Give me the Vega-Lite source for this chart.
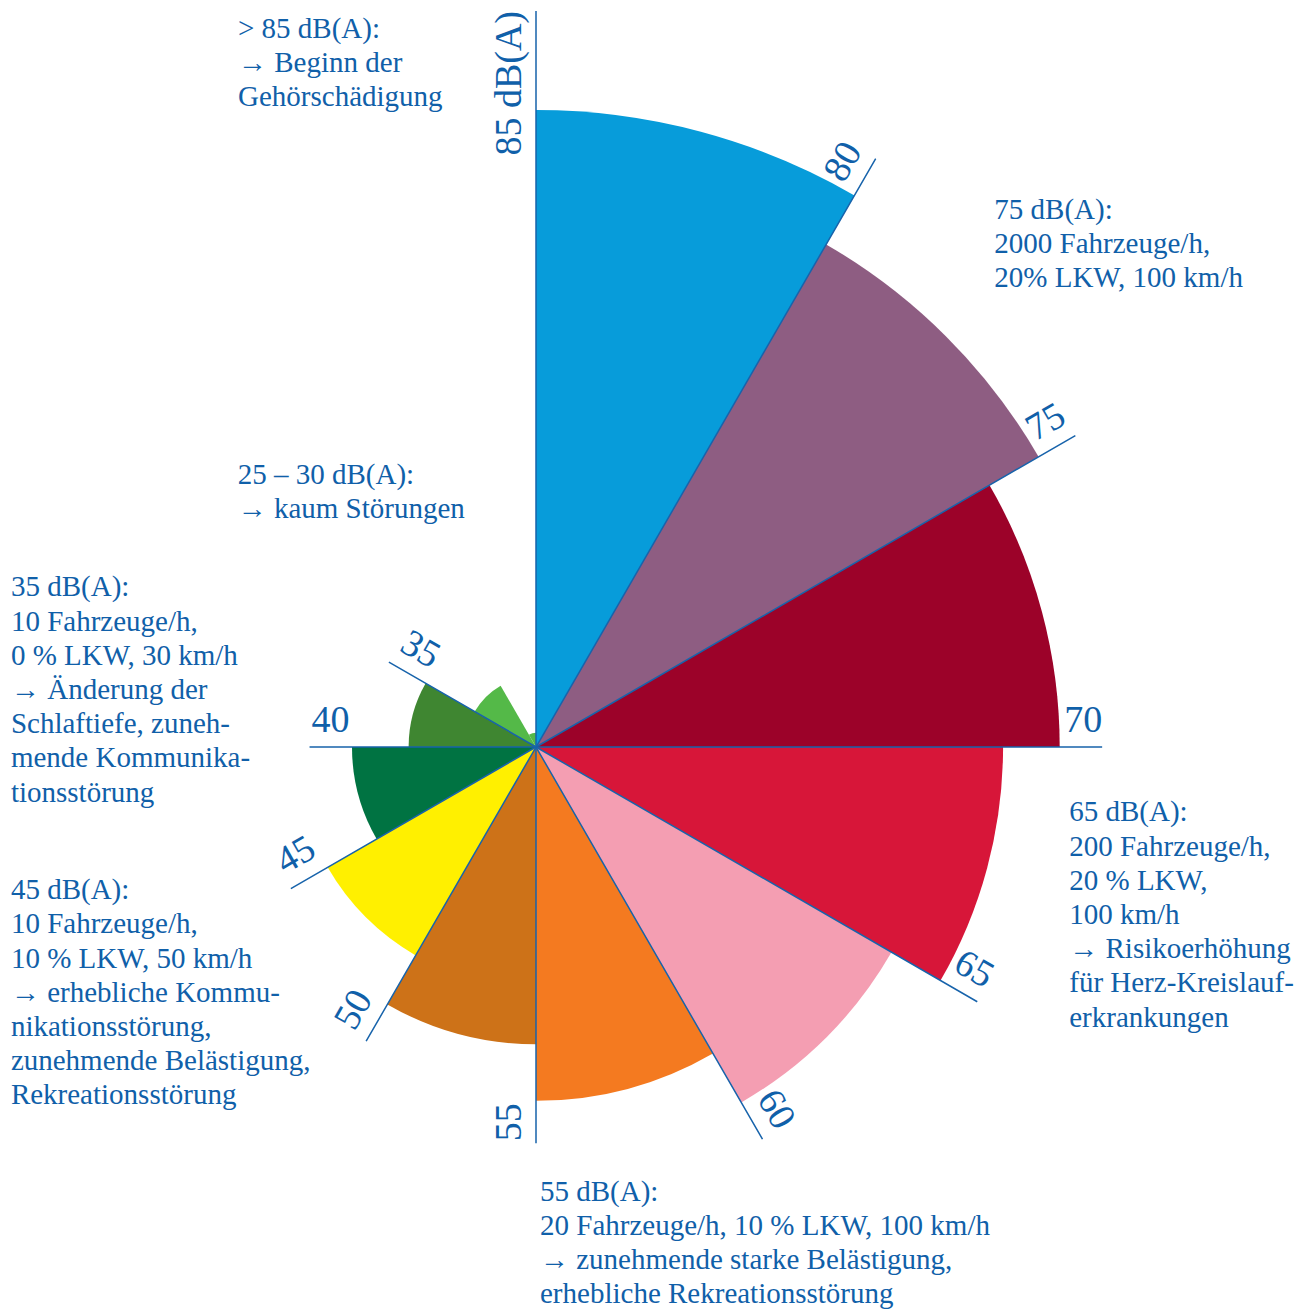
{
  "$schema": "https://vega.github.io/schema/vega-lite/v6.json",
  "width": 1072,
  "height": 1124,
  "autosize": {"type": "none"},
  "padding": {"left": 0, "top": 185, "right": 234, "bottom": 0},
  "background": "white",
  "config": {"view": {"stroke": null}},
  "datasets": {
    "bands": [
      {"band": "80-85", "lo": 80, "hi": 85},
      {"band": "75-80", "lo": 75, "hi": 80},
      {"band": "70-75", "lo": 70, "hi": 75},
      {"band": "65-70", "lo": 65, "hi": 70},
      {"band": "60-65", "lo": 60, "hi": 65},
      {"band": "55-60", "lo": 55, "hi": 60},
      {"band": "50-55", "lo": 50, "hi": 55},
      {"band": "45-50", "lo": 45, "hi": 50},
      {"band": "40-45", "lo": 40, "hi": 45},
      {"band": "35-40", "lo": 35, "hi": 40},
      {"band": "30-35", "lo": 30, "hi": 35},
      {"band": "25-30", "lo": 25, "hi": 30}
    ],
    "ticks": [
      {"level": 85, "label": "85 dB(A)"},
      {"level": 80, "label": "80"},
      {"level": 75, "label": "75"},
      {"level": 70, "label": "70"},
      {"level": 65, "label": "65"},
      {"level": 60, "label": "60"},
      {"level": 55, "label": "55"},
      {"level": 50, "label": "50"},
      {"level": 45, "label": "45"},
      {"level": 40, "label": "40"},
      {"level": 35, "label": "35"}
    ],
    "notes": [
      {"id": "n85", "level": 85, "lines": ["> 85 dB(A):", "→ Beginn der", "Gehörschädigung"]},
      {"id": "n75", "level": 75, "lines": ["75 dB(A):", "2000 Fahrzeuge/h,", "20% LKW, 100 km/h"]},
      {"id": "n25", "level": 30, "lines": ["25 – 30 dB(A):", "→ kaum Störungen"]},
      {"id": "n35", "level": 35, "lines": ["35 dB(A):", "10 Fahrzeuge/h,", "0 % LKW, 30 km/h", "→ Änderung der", "Schlaftiefe, zuneh-", "mende Kommunika-", "tionsstörung"]},
      {"id": "n65", "level": 65, "lines": ["65 dB(A):", "200 Fahrzeuge/h,", "20 % LKW,", "100 km/h", "→ Risikoerhöhung", "für Herz-Kreislauf-", "erkrankungen"]},
      {"id": "n45", "level": 45, "lines": ["45 dB(A):", "10 Fahrzeuge/h,", "10 % LKW, 50 km/h", "→ erhebliche Kommu-", "nikationsstörung,", "zunehmende Belästigung,", "Rekreationsstörung"]},
      {"id": "n55", "level": 55, "lines": ["55 dB(A):", "20 Fahrzeuge/h, 10 % LKW, 100 km/h", "→ zunehmende starke Belästigung,", "erhebliche Rekreationsstörung"]}
    ]
  },
  "layer": [
    {
      "data": {"name": "bands"},
      "mark": {"type": "arc"},
      "encoding": {
        "theta": {"field": "hi", "type": "quantitative", "stack": null, "scale": {"domain": [25, 85], "range": [6.283185307179586, 0]}},
        "theta2": {"field": "lo"},
        "radius": {"field": "lo", "type": "quantitative", "scale": {"type": "linear", "zero": false, "domain": [23.75, 88.75], "range": [0, 736]}},
        "color": {
          "field": "band", "type": "nominal", "legend": null,
          "scale": {
            "domain": ["80-85", "75-80", "70-75", "65-70", "60-65", "55-60", "50-55", "45-50", "40-45", "35-40", "30-35", "25-30"],
            "range": ["#079cda", "#8e5d82", "#9c0229", "#d71639", "#f49eb2", "#f47a20", "#cd7218", "#fff000", "#007342", "#3f8631", "#54b948", "#54b948"]
          }
        }
      }
    },
    {
      "data": {"name": "ticks"},
      "mark": {"type": "arc", "filled": false, "stroke": "#1763ab", "strokeWidth": 1.5},
      "encoding": {
        "theta": {"field": "level", "type": "quantitative", "stack": null, "scale": {"domain": [25, 85], "range": [6.283185307179586, 0]}},
        "theta2": {"field": "level"},
        "radius": {"field": "level", "type": "quantitative", "scale": {"type": "linear", "zero": false, "domain": [20, 85], "range": [0, 736]}}
      }
    },
    {
      "data": {"name": "ticks"},
      "transform": [{"filter": "datum.level >= 60"}],
      "mark": {"type": "text", "align": "right", "baseline": "alphabetic", "dy": -15, "fontSize": 38, "font": "Liberation Serif", "color": "#1060a9"},
      "encoding": {
        "theta": {"field": "level", "type": "quantitative", "stack": null, "scale": {"domain": [25, 85], "range": [6.283185307179586, 0]}},
        "radius": {"field": "level", "type": "quantitative", "scale": {"type": "linear", "zero": false, "domain": [20, 85], "range": [0, 736]}},
        "angle": {"field": "level", "type": "quantitative", "scale": {"zero": false, "domain": [25, 85], "range": [270, -90]}},
        "text": {"field": "label", "type": "nominal"}
      }
    },
    {
      "data": {"name": "ticks"},
      "transform": [{"filter": "datum.level <= 55"}],
      "mark": {"type": "text", "align": "left", "baseline": "alphabetic", "dx": 2, "dy": -15, "fontSize": 38, "font": "Liberation Serif", "color": "#1060a9"},
      "encoding": {
        "theta": {"field": "level", "type": "quantitative", "stack": null, "scale": {"domain": [25, 85], "range": [6.283185307179586, 0]}},
        "radius": {"field": "level", "type": "quantitative", "scale": {"type": "linear", "zero": false, "domain": [20, 85], "range": [0, 736]}},
        "angle": {"field": "level", "type": "quantitative", "scale": {"zero": false, "domain": [25, 85], "range": [90, -270]}},
        "text": {"field": "label", "type": "nominal"}
      }
    },
    {
      "data": {"name": "notes"},
      "transform": [{"filter": "datum.id == 'n85'"}],
      "mark": {"type": "text", "align": "left", "baseline": "alphabetic", "dx": -298, "dy": -30, "fontSize": 29, "lineHeight": 34.2, "font": "Liberation Serif", "color": "#1060a9"},
      "encoding": {
        "theta": {"field": "level", "type": "quantitative", "stack": null, "scale": {"domain": [25, 85], "range": [6.283185307179586, 0]}},
        "radius": {"field": "level", "type": "quantitative", "scale": {"type": "linear", "zero": false, "domain": [25, 90], "range": [0, 736]}},
        "text": {"field": "lines", "type": "nominal"}
      }
    },
    {
      "data": {"name": "notes"},
      "transform": [{"filter": "datum.id == 'n75'"}],
      "mark": {"type": "text", "align": "left", "baseline": "alphabetic", "dx": -32, "dy": -245, "fontSize": 29, "lineHeight": 34.2, "font": "Liberation Serif", "color": "#1060a9"},
      "encoding": {
        "theta": {"field": "level", "type": "quantitative", "stack": null, "scale": {"domain": [25, 85], "range": [6.283185307179586, 0]}},
        "radius": {"field": "level", "type": "quantitative", "scale": {"type": "linear", "zero": false, "domain": [25, 90], "range": [0, 736]}},
        "text": {"field": "lines", "type": "nominal"}
      }
    },
    {
      "data": {"name": "notes"},
      "transform": [{"filter": "datum.id == 'n25'"}],
      "mark": {"type": "text", "align": "left", "baseline": "alphabetic", "dx": -270, "dy": -214, "fontSize": 29, "lineHeight": 34.2, "font": "Liberation Serif", "color": "#1060a9"},
      "encoding": {
        "theta": {"field": "level", "type": "quantitative", "stack": null, "scale": {"domain": [25, 85], "range": [6.283185307179586, 0]}},
        "radius": {"field": "level", "type": "quantitative", "scale": {"type": "linear", "zero": false, "domain": [25, 90], "range": [0, 736]}},
        "text": {"field": "lines", "type": "nominal"}
      }
    },
    {
      "data": {"name": "notes"},
      "transform": [{"filter": "datum.id == 'n35'"}],
      "mark": {"type": "text", "align": "left", "baseline": "alphabetic", "dx": -427, "dy": -94, "fontSize": 29, "lineHeight": 34.2, "font": "Liberation Serif", "color": "#1060a9"},
      "encoding": {
        "theta": {"field": "level", "type": "quantitative", "stack": null, "scale": {"domain": [25, 85], "range": [6.283185307179586, 0]}},
        "radius": {"field": "level", "type": "quantitative", "scale": {"type": "linear", "zero": false, "domain": [25, 90], "range": [0, 736]}},
        "text": {"field": "lines", "type": "nominal"}
      }
    },
    {
      "data": {"name": "notes"},
      "transform": [{"filter": "datum.id == 'n65'"}],
      "mark": {"type": "text", "align": "left", "baseline": "alphabetic", "dx": 141, "dy": -152, "fontSize": 29, "lineHeight": 34.2, "font": "Liberation Serif", "color": "#1060a9"},
      "encoding": {
        "theta": {"field": "level", "type": "quantitative", "stack": null, "scale": {"domain": [25, 85], "range": [6.283185307179586, 0]}},
        "radius": {"field": "level", "type": "quantitative", "scale": {"type": "linear", "zero": false, "domain": [25, 90], "range": [0, 736]}},
        "text": {"field": "lines", "type": "nominal"}
      }
    },
    {
      "data": {"name": "notes"},
      "transform": [{"filter": "datum.id == 'n45'"}],
      "mark": {"type": "text", "align": "left", "baseline": "alphabetic", "dx": -329, "dy": 39, "fontSize": 29, "lineHeight": 34.2, "font": "Liberation Serif", "color": "#1060a9"},
      "encoding": {
        "theta": {"field": "level", "type": "quantitative", "stack": null, "scale": {"domain": [25, 85], "range": [6.283185307179586, 0]}},
        "radius": {"field": "level", "type": "quantitative", "scale": {"type": "linear", "zero": false, "domain": [25, 90], "range": [0, 736]}},
        "text": {"field": "lines", "type": "nominal"}
      }
    },
    {
      "data": {"name": "notes"},
      "transform": [{"filter": "datum.id == 'n55'"}],
      "mark": {"type": "text", "align": "left", "baseline": "alphabetic", "dx": 4, "dy": 114, "fontSize": 29, "lineHeight": 34.2, "font": "Liberation Serif", "color": "#1060a9"},
      "encoding": {
        "theta": {"field": "level", "type": "quantitative", "stack": null, "scale": {"domain": [25, 85], "range": [6.283185307179586, 0]}},
        "radius": {"field": "level", "type": "quantitative", "scale": {"type": "linear", "zero": false, "domain": [25, 90], "range": [0, 736]}},
        "text": {"field": "lines", "type": "nominal"}
      }
    }
  ],
  "resolve": {"scale": {"radius": "independent", "angle": "independent"}}
}
